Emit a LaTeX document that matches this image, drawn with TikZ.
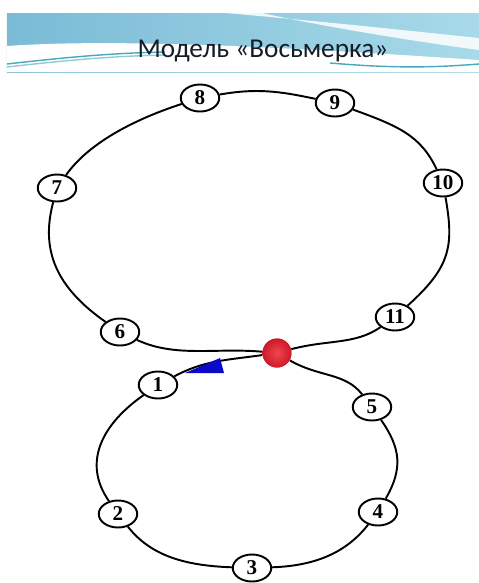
\documentclass[tikz,border=0pt]{standalone}
\usepackage{fontspec}
\setmainfont{Liberation Serif}
\newfontfamily\titlefont{Carlito}
\usetikzlibrary{shapes.geometric}
\definecolor{hdrBlue}{RGB}{122,187,214}
\definecolor{hdrLight}{RGB}{168,218,233}
\definecolor{hdrTeal}{RGB}{70,170,185}
\definecolor{titleInk}{RGB}{20,28,40}
\definecolor{dotRed}{RGB}{205,25,40}
\definecolor{dotLight}{RGB}{240,70,80}
\definecolor{arrowBlue}{RGB}{10,10,200}

\begin{document}
\begin{tikzpicture}
[x=0.02cm,y=-0.02cm,
vertex/.style={ellipse,draw,line width=1.1pt,fill=white,minimum width=0.77cm,minimum height=0.54cm,inner sep=0pt,font=\bfseries\fontsize{12}{12}\selectfont},
edge/.style={line width=1.1pt},
crossVertex/.style={circle,minimum size=0.58cm,inner sep=0pt,shading=radial,inner color=dotLight,outer color=dotRed},
titleLabel/.style={font=\titlefont\fontsize{15.5}{15.5}\selectfont,text=titleInk},
swoosh/.style={draw=hdrTeal,line width=0.8pt}]
\useasboundingbox (0,0) rectangle (479,583);
\fill[white] (0,0) rectangle (479,583);
% header band
\shade[left color=hdrBlue,right color=hdrLight] (7,13) rectangle (479,72);
\fill[white,opacity=0.85] (225,13) .. controls (330,22) and (420,32) .. (479,38) -- (479,50) .. controls (420,42) and (330,28) .. (262,13) -- cycle;
\fill[white] (7,46) .. controls (120,38) and (300,48) .. (479,60) -- (479,72) -- (7,72) -- cycle;
\draw[swoosh] (7,64) .. controls (60,58) and (110,53) .. (165,52);
\draw[swoosh,opacity=0.6] (7,67) .. controls (60,61) and (110,56) .. (165,55);
\draw[swoosh] (330,63) .. controls (400,69) and (440,67) .. (479,64);
\node[titleLabel] (title) at (263,51) {Модель «Восьмерка»};
% stations
\node[vertex,] (1) at (158 , 385) {1};
\node[vertex,] (2) at (118 , 514) {2};
\node[vertex,] (3) at (252 , 568) {3};
\node[vertex,] (4) at (378 , 512) {4};
\node[vertex,] (5) at (372 , 407) {5};
\node[vertex,] (6) at (120 , 332) {6};
\node[vertex,] (7) at (57 , 188) {7};
\node[vertex,] (8) at (200 , 98) {8};
\node[vertex,] (9) at (335 , 103) {9};
\node[vertex,] (10) at (443 , 183) {10};
\node[vertex,] (11) at (395 , 317) {11};
\node[crossVertex] (0) at (277 , 353) {};
% lower loop
\draw[edge,](0) to[out=-30,in=128,out distance=0.68cm,in distance=0.56cm] (5) ;
\draw[edge,](5) to[out=-55,in=60,out distance=0.7cm,in distance=0.68cm] (4) ;
\draw[edge,](4) to[out=-128,in=2,out distance=0.7cm,in distance=0.88cm] (3) ;
\draw[edge,](3) to[out=178,in=-52,out distance=0.92cm,in distance=0.75cm] (2) ;
\draw[edge,](2) to[out=125,in=215,out distance=0.95cm,in distance=1cm] (1) ;
\draw[edge,](1) to[out=28,in=188,out distance=0.68cm,in distance=0.75cm] (0) ;
% upper loop
\draw[edge,](0) to[out=15,in=215,out distance=0.75cm,in distance=0.62cm] (11) ;
\draw[edge,](11) to[out=42,in=280,out distance=1.15cm,in distance=1cm] (10) ;
\draw[edge,](10) to[out=115,in=340,out distance=0.75cm,in distance=0.95cm] (9) ;
\draw[edge,](9) to[out=168,in=10,out distance=0.75cm,in distance=0.75cm] (8) ;
\draw[edge,](8) to[out=198,in=55,out distance=1.05cm,in distance=0.75cm] (7) ;
\draw[edge,](7) to[out=255,in=145,out distance=1cm,in distance=1.2cm] (6) ;
\draw[edge,](6) to[out=335,in=175,out distance=0.85cm,in distance=0.95cm] (0) ;
\node[crossVertex] at (0) {};
\fill[arrowBlue] (185,373) -- (220,358) -- (224,373) -- cycle;
\end{tikzpicture}
\end{document}
